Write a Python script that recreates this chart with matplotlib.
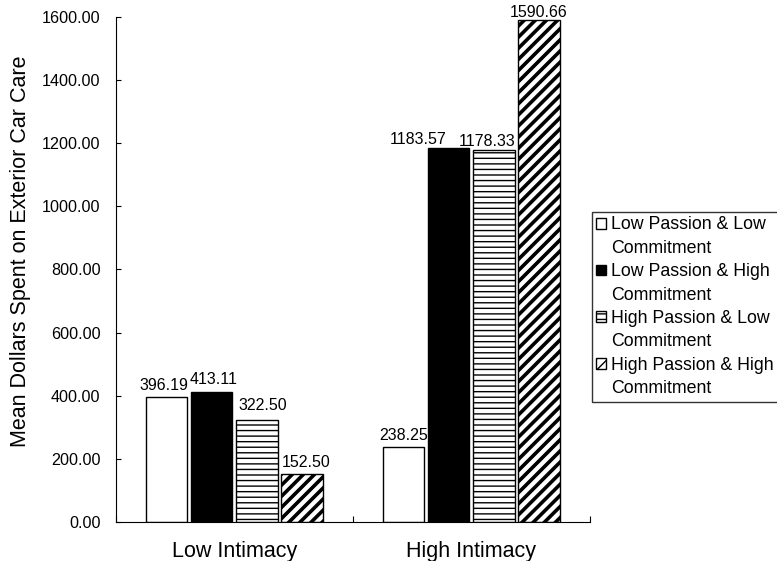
import matplotlib
matplotlib.use("Agg")
import matplotlib.pyplot as plt
from matplotlib.patches import Rectangle
import numpy as np

plt.rcParams['font.family'] = ['Liberation Sans', 'DejaVu Sans']

# data
groups = ["Low Intimacy", "High Intimacy"]
series = ["Low Passion & Low", "Low Passion & High",
          "High Passion & Low", "High Passion & High"]
series_second_line = "Commitment"
low_low = [396.19, 238.25]
low_high = [413.11, 1183.57]
high_low = [322.50, 1178.33]
high_high = [152.50, 1590.66]
values = [low_low, low_high, high_low, high_high]

faces = ["white", "black", "white", "white"]
hatches = [None, None, "---", "///"]
hatch_lw = [1.0, 1.0, 1.0, 2.6]
# nudge of value labels (points), per series / group
label_dx = [[-2, 0], [1, -22], [4.5, -5], [3, 0]]
label_dy = [[3, 3], [3, 1], [5, 1], [3, 0]]

fig = plt.figure(figsize=(7.77, 5.61), dpi=100)
ax = fig.add_axes([0.149, 0.0695, 0.61, 0.9005])

x = np.arange(len(groups))
width = 0.175
step = 0.19
bars = []
for i, vals in enumerate(values):
    with plt.rc_context({'hatch.linewidth': hatch_lw[i]}):
        b = ax.bar(x + (i - 1.5) * step, vals, width, color=faces[i], edgecolor="black",
                   linewidth=1.0, hatch=hatches[i])
    bars.append(b)
    for j, (rect, v) in enumerate(zip(b, vals)):
        ax.annotate("%.2f" % v, (rect.get_x() + rect.get_width() / 2, v),
                    xytext=(label_dx[i][j], label_dy[i][j]), textcoords="offset points",
                    ha="center", va="bottom", fontsize=11.5, annotation_clip=False)

ax.set_xlim(-0.5, 1.5)
ax.set_ylim(0, 1600)
ax.set_yticks(np.arange(0, 1601, 200))
ax.set_yticklabels(["%.2f" % t for t in np.arange(0, 1601, 200)], fontsize=11.6)
ax.set_xticks([-0.5, 0.5, 1.5])
ax.set_xticklabels([])
ax.set_xticks(x, minor=True)
ax.set_xticklabels(groups, minor=True, fontsize=15.5)
ax.tick_params(axis="x", which="minor", length=0, pad=14)
ax.tick_params(axis="x", which="major", length=4, direction="in")
ax.tick_params(axis="y", length=3.5, direction="in", pad=11)
ax.spines["top"].set_visible(False)
ax.spines["right"].set_visible(False)
ax.set_ylabel("Mean Dollars Spent on Exterior Car Care", fontsize=15.5)
ax.yaxis.set_label_coords(-0.178, 0.535)

# legend: marker beside first line, second line without marker
blank = Rectangle((0, 0), 1, 1, fill=False, edgecolor="none", linewidth=0)
handles, labels = [], []
for b, s in zip(bars, series):
    handles += [b, blank]
    labels += [s, series_second_line]
leg = fig.legend(handles=handles, labels=labels, loc="upper left",
                 bbox_to_anchor=(592 / 777, 1 - 212 / 561), fontsize=12.8,
                 frameon=True, fancybox=False, edgecolor="black",
                 handlelength=0.55, handleheight=0.55, handletextpad=0.25,
                 labelspacing=0.36, borderpad=0.25, borderaxespad=0)
leg.get_frame().set_linewidth(1.0)

fig.savefig("out.png", dpi=100)
